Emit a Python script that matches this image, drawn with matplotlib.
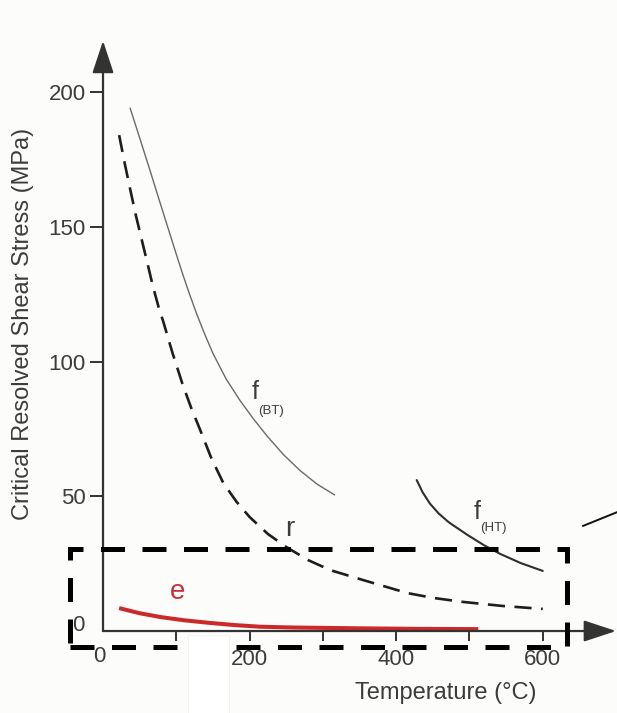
import matplotlib
matplotlib.use("Agg")
import matplotlib.pyplot as plt
from matplotlib.patches import Rectangle

plt.rcParams['font.family'] = ['Liberation Sans', 'DejaVu Sans']

# temperature (C) / critical resolved shear stress (MPa)
fbt_temp = [37, 50, 64, 76, 87, 98, 108, 118, 128, 139, 150, 168, 187, 205, 224, 246, 269, 292, 316]
fbt_tau = [194, 183, 171, 160.5, 151, 141.5, 133, 125, 117.5, 110, 103, 93.5, 85.5, 78.8, 72.3,
           65.5, 59.5, 54.5, 50.5]

r_temp = [22, 30, 37, 45, 53, 61, 68, 76, 82, 95, 108, 120, 132, 148, 164, 182, 200, 225,
          251, 280, 310, 355, 415, 450, 491, 545, 600]
r_tau = [184, 173, 164, 154, 145, 136, 128, 120, 115, 103, 92, 83, 75, 64, 55, 48, 42.3, 36,
         31, 26.3, 22.6, 18.9, 14.1, 12.3, 10.8, 9.3, 8.2]

fht_temp = [428, 436, 446, 458, 472, 497, 520, 542, 570, 600]
fht_tau = [56, 51.5, 47.3, 43.6, 40.3, 35.7, 31.8, 28.6, 25.2, 22.3]

e_temp = [22, 50, 78, 110, 146, 180, 214, 260, 350, 430, 512]
e_tau = [8.5, 6.6, 5.2, 4.0, 3.0, 2.2, 1.6, 1.3, 1.0, 0.8, 0.7]

y_ticks = [50, 100, 150, 200]
x_ticks = [100, 200, 300, 400, 500, 600]
x_labels = ['', '200', '', '400', '', '600']

ink = '#333333'
txt = '#3c3c3c'

fig = plt.figure(figsize=(6.17, 7.13), dpi=100)
fig.patch.set_facecolor('#fcfcfa')
# blank strip under the axis
fig.patches.append(Rectangle((188 / 617, 0), 41 / 617, 78 / 713, transform=fig.transFigure,
                             facecolor='white', edgecolor='#f3f2ec', lw=0.6, zorder=0))

ax = fig.add_axes([0.1135, 0.0923, 0.885, 0.8505])
ax.set_facecolor('none')
ax.set_xlim(-45, 700)
ax.set_ylim(-6, 219)

for side in ['left', 'bottom']:
    ax.spines[side].set_position(('data', 0))
for s in ax.spines.values():
    s.set_visible(False)

# axis lines with arrow heads
arrow = dict(arrowstyle='-|>,head_length=1.0,head_width=0.33', color=ink, lw=1.6,
             shrinkA=0, shrinkB=0, mutation_scale=20)
ax.annotate('', xy=(0, 219), xytext=(0, 0), arrowprops=arrow, annotation_clip=False)
ax.annotate('', xy=(700, 0), xytext=(0, 0), arrowprops=arrow, annotation_clip=False)

ax.set_yticks(y_ticks)
ax.set_yticklabels([str(v) for v in y_ticks])
ax.set_xticks(x_ticks)
ax.set_xticklabels(x_labels)
ax.tick_params(axis='y', direction='out', length=9.4, width=1.4, color=ink,
               pad=3, labelsize=16, labelcolor=txt)
ax.tick_params(axis='x', direction='out', length=7.2, width=1.4, color=ink,
               pad=5.8, labelsize=16, labelcolor=txt)
ax.text(-5, -9.6, '0', ha='center', va='center', fontsize=16, color=txt)
ax.text(-25, 2, '0', ha='right', va='center', fontsize=16, color=txt)

ax.text(-109, 114, 'Critical Resolved Shear Stress (MPa)', rotation=90,
        ha='center', va='center', fontsize=17, color=txt, clip_on=False)
ax.text(467, -23, 'Temperature (\u00b0C)', ha='center', va='center',
        fontsize=17, color=txt, clip_on=False)

# curves
ax.plot(fbt_temp, fbt_tau, color='#6a6a6a', lw=1.0, solid_capstyle='round')
ax.plot(r_temp, r_tau, color='#1e1e1e', lw=1.9, ls=(0, (6.5, 3.6)))
ax.plot(fht_temp, fht_tau, color='#2e2e2e', lw=1.5, solid_capstyle='round')
ax.plot(e_temp, e_tau, color='#cc2a2a', lw=2.9, solid_capstyle='butt')

# curve labels
ax.text(207, 88.7, 'f', ha='center', va='center', fontsize=18, color=txt)
ax.text(212, 81.5, '(BT)', ha='left', va='center', fontsize=9.5, color=txt)
ax.text(511, 44, 'f', ha='center', va='center', fontsize=18, color=txt)
ax.text(515, 38.3, '(HT)', ha='left', va='center', fontsize=9.5, color=txt)
ax.text(255, 38, 'r', ha='center', va='center', fontsize=20, color=txt)
ax.text(102, 14.5, 'e', ha='center', va='center', fontsize=20, color='#c8303c')

# highlighted low-stress window
ax.add_patch(Rectangle((-45, -6), 678, 36.4, fill=False, edgecolor='black', lw=3.6,
                       ls=(0, (4.8, 3.5)), clip_on=False, zorder=5))

# leader line running off to the right
ax.plot([655, 705], [39, 44.5], color='#111111', lw=1.4, clip_on=False)

fig.savefig('out.png', dpi=100, facecolor=fig.get_facecolor())
